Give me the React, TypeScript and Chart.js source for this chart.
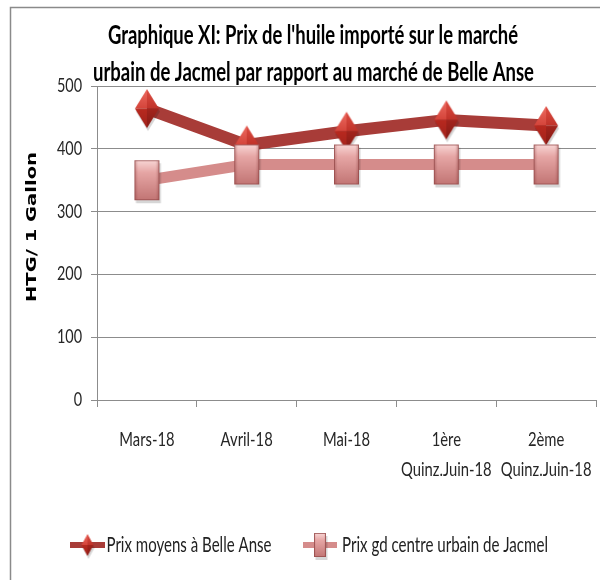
import React, { useEffect, useRef } from "react";
import { Chart, registerables } from "chart.js";
Chart.register(...registerables);

const categories: string[][] = [["Mars-18"], ["Avril-18"], ["Mai-18"], ["1ère", "Quinz.Juin-18"], ["2ème", "Quinz.Juin-18"]];
const belleAnse = [464, 406, 428, 446, 437];
const jacmel = [350, 375, 375, 375, 375];
const yMin = 0;
const yMax = 500;
const yStep = 100;
const titleLines = ["Graphique XI: Prix de l'huile importé sur le marché", "urbain de Jacmel par rapport au marché de Belle Anse"];
const seriesNames = ["Prix moyens à Belle Anse", "Prix gd centre urbain de Jacmel"];
const yAxisTitle = "HTG/ 1 Gallon";

const FONT = "Lato, 'Open Sans', 'Liberation Sans', sans-serif";

function makeDiamond(w: number, h: number): HTMLCanvasElement {
  const pad = 4;
  const c = document.createElement("canvas");
  c.width = w + pad * 2;
  c.height = h + pad * 2;
  const ctx = c.getContext("2d")!;
  const cx = c.width / 2, top = pad, mid = pad + h / 2, bot = pad + h;
  ctx.fillStyle = "rgba(0,0,0,0.16)";
  ctx.beginPath();
  ctx.moveTo(cx + 1, top + 3); ctx.lineTo(cx + w / 2 + 1, mid + 3); ctx.lineTo(cx + 1, bot + 3); ctx.lineTo(cx - w / 2 + 1, mid + 3); ctx.closePath(); ctx.fill();
  const facet = (pts: number[][], c1: string, c2: string, y1: number, y2: number) => {
    const g = ctx.createLinearGradient(0, y1, 0, y2);
    g.addColorStop(0, c1); g.addColorStop(1, c2);
    ctx.fillStyle = g;
    ctx.beginPath();
    ctx.moveTo(pts[0][0], pts[0][1]);
    for (let i = 1; i < pts.length; i++) ctx.lineTo(pts[i][0], pts[i][1]);
    ctx.closePath();
    ctx.fill();
  };
  facet([[cx, top], [cx, mid], [cx - w / 2, mid]], "#ec6a60", "#d4443a", top, mid);
  facet([[cx, top], [cx + w / 2, mid], [cx, mid]], "#dd4c42", "#c0332a", top, mid);
  facet([[cx - w / 2, mid], [cx, mid], [cx, bot]], "#b8291f", "#a0221b", mid, bot);
  facet([[cx, mid], [cx + w / 2, mid], [cx, bot]], "#a3241d", "#861a14", mid, bot);
  return c;
}

function makeSquare(w: number, h: number): HTMLCanvasElement {
  const pad = 4;
  const c = document.createElement("canvas");
  c.width = w + pad * 2;
  c.height = h + pad * 2;
  const ctx = c.getContext("2d")!;
  const x = pad, y = pad;
  ctx.fillStyle = "rgba(0,0,0,0.16)";
  ctx.fillRect(x + 1.5, y + 3, w, h);
  const g = ctx.createLinearGradient(0, y, 0, y + h);
  g.addColorStop(0, "#f8d6d5"); g.addColorStop(0.3, "#e6a6a5"); g.addColorStop(1, "#c27574");
  ctx.fillStyle = g;
  ctx.fillRect(x, y, w, h);
  const gs = ctx.createLinearGradient(x, 0, x + w, 0);
  gs.addColorStop(0, "rgba(120,40,40,0.35)"); gs.addColorStop(0.15, "rgba(120,40,40,0)");
  gs.addColorStop(0.85, "rgba(120,40,40,0)"); gs.addColorStop(1, "rgba(120,40,40,0.35)");
  ctx.fillStyle = gs;
  ctx.fillRect(x, y, w, h);
  ctx.strokeStyle = "rgba(150,75,75,0.75)";
  ctx.lineWidth = 1;
  ctx.strokeRect(x + 0.5, y + 0.5, w - 1, h - 1);
  return c;
}

function fitText(ctx: CanvasRenderingContext2D, text: string, cx: number, cy: number, targetW: number, font: string, color: string, rotate = 0, baseline: CanvasTextBaseline = "alphabetic") {
  ctx.save();
  ctx.font = font;
  ctx.fillStyle = color;
  const w = ctx.measureText(text).width;
  ctx.translate(cx, cy);
  if (rotate) ctx.rotate(rotate);
  ctx.scale(targetW / w, 1);
  ctx.textAlign = "center";
  ctx.textBaseline = baseline;
  ctx.fillText(text, 0, 0);
  ctx.restore();
}

function scaledText(ctx: CanvasRenderingContext2D, text: string, x: number, y: number, sx: number, font: string, color: string, align: CanvasTextAlign) {
  ctx.save();
  ctx.font = font;
  ctx.fillStyle = color;
  ctx.translate(x, y);
  ctx.scale(sx, 1);
  ctx.textAlign = align;
  ctx.textBaseline = "middle";
  ctx.fillText(text, 0, 0);
  ctx.restore();
}

export default function App() {
  const ref = useRef<HTMLCanvasElement>(null);
  useEffect(() => {
    const canvas = ref.current!;
    const diamond = makeDiamond(24, 39);
    const square = makeSquare(25, 40);
    const diamondSmall = makeDiamond(12, 22);
    const squareSmall = makeSquare(12, 24);
    const lineColors = ["#a83c38", "#d58c8b"];
    const tickColor = "#262626";

    const decor = {
      id: "decor",
      beforeDraw(chart: any) {
        const ctx = chart.ctx as CanvasRenderingContext2D;
        ctx.save();
        ctx.fillStyle = "#ffffff";
        ctx.fillRect(0, 0, chart.width, chart.height);
        ctx.strokeStyle = "#8a8a8a";
        ctx.lineWidth = 1.5;
        ctx.strokeRect(10.5, 7.5, chart.width + 50, chart.height + 50);
        ctx.restore();
      },
      afterDraw(chart: any) {
        const ctx = chart.ctx as CanvasRenderingContext2D;
        const ys = chart.scales.y;
        ys.ticks.forEach((t: any) => {
          const py = ys.getPixelForValue(t.value);
          scaledText(ctx, String(t.value), ys.right - 15, py, 0.78, "18.5px " + FONT, tickColor, "right");
        });
        const xs = chart.scales.x;
        categories.forEach((lines, i) => {
          const px = xs.getPixelForTick(i);
          lines.forEach((ln, j) => {
            scaledText(ctx, ln, px, xs.top + 40 + j * 30, 0.8, "18.5px " + FONT, tickColor, "center");
          });
        });
        fitText(ctx, titleLines[0], 313, 44, 410, "bold 26px " + FONT, "#000");
        fitText(ctx, titleLines[1], 313.5, 81, 441, "bold 26px " + FONT, "#000");
        fitText(ctx, yAxisTitle, 32, 227, 150, "bold 14px 'DejaVu Sans', sans-serif", "#000", -Math.PI / 2, "middle");
        const ly = 545;
        const items = [
          { x1: 70, x2: 105, img: diamondSmall, tc: 189, tw: 165 },
          { x1: 303, x2: 337, img: squareSmall, tc: 445, tw: 206 },
        ];
        items.forEach((it, i) => {
          ctx.save();
          ctx.strokeStyle = lineColors[i];
          ctx.lineWidth = 6;
          ctx.beginPath();
          ctx.moveTo(it.x1, ly);
          ctx.lineTo(it.x2, ly);
          ctx.stroke();
          const mx = (it.x1 + it.x2) / 2;
          ctx.drawImage(it.img, mx - it.img.width / 2, ly - it.img.height / 2);
          ctx.restore();
          fitText(ctx, seriesNames[i], it.tc, ly, it.tw, "21px " + FONT, "#222", 0, "middle");
        });
      },
    };

    const chart = new Chart(canvas, {
      type: "line",
      data: {
        labels: categories,
        datasets: [
          {
            label: seriesNames[1],
            data: jacmel,
            borderColor: lineColors[1],
            borderWidth: 11,
            pointStyle: square as any,
            pointRadius: 12,
            tension: 0,
          },
          {
            label: seriesNames[0],
            data: belleAnse,
            borderColor: lineColors[0],
            borderWidth: 12,
            pointStyle: diamond as any,
            pointRadius: 12,
            tension: 0,
          },
        ],
      },
      options: {
        responsive: false,
        animation: false,
        devicePixelRatio: 1,
        layout: { padding: { left: 0, right: 15, top: 86, bottom: 90 } },
        plugins: { legend: { display: false }, title: { display: false }, tooltip: { enabled: false } },
        scales: {
          x: {
            offset: true,
            grid: { offset: true, drawOnChartArea: false, drawTicks: true, tickLength: 7, color: "#8c8c8c" },
            border: { display: true, color: "#8c8c8c", width: 1 },
            ticks: { display: false, autoSkip: false, maxRotation: 0 },
            afterFit(scale: any) { scale.height = 90; },
          },
          y: {
            min: yMin,
            max: yMax,
            ticks: { display: false, stepSize: yStep },
            grid: { color: "#8c8c8c", tickLength: 6, lineWidth: 1 },
            border: { display: true, color: "#8c8c8c", width: 1 },
            afterFit(scale: any) { scale.width = 97; },
          },
        },
      },
      plugins: [decor],
    });
    return () => chart.destroy();
  }, []);

  return (
    <div style={{ position: "fixed", left: 0, top: 0, width: 600, height: 580, overflow: "hidden", background: "#fff" }}>
      <canvas ref={ref} width={620} height={580} style={{ width: 620, height: 580, display: "block" }} />
    </div>
  );
}
